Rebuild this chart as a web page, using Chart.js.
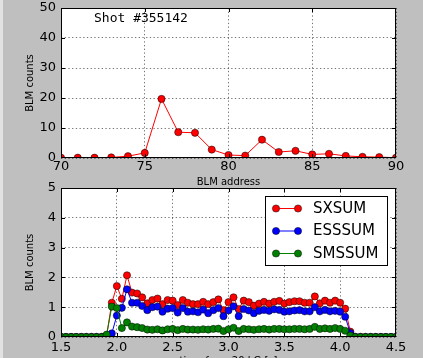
<!DOCTYPE html>
<html>
<head>
<meta charset="utf-8">
<script src="https://cdn.jsdelivr.net/npm/chart.js@4/dist/chart.umd.min.js"></script>
<style>
  html, body { margin: 0; padding: 0; background: #bfbfbf; }
  #wrap { position: relative; width: 423px; height: 358px; overflow: hidden; }
  #wrap canvas { position: absolute; left: 0; top: -20px; }
  #edge { position: absolute; left: 0; top: 0; width: 3px; height: 358px; background: #e2e2e2; }
</style>
</head>
<body>
<div id="wrap">
  <canvas id="blmChart" width="423" height="420"></canvas>
  <canvas id="sumChart" width="423" height="420"></canvas>
  <div id="edge"></div>
</div>
<script>
// ---- Upper panel: counts per BLM address ----
const addresses = [70, 71, 72, 73, 74, 75, 76, 77, 78, 79, 80, 81, 82, 83, 84, 85, 86, 87, 88, 89, 90];
const blmCounts = [0.1, 0.1, 0.1, 0.2, 0.6, 1.7, 19.7, 8.6, 8.4, 2.8, 1.0, 0.8, 6.1, 2.0, 2.4, 1.2, 1.4, 0.7, 0.4, 0.3, 0.1];
const addressTicks = [70, 75, 80, 85, 90];
const addressTickLabels = ['70', '75', '80', '85', '90'];
const countTicksTop = [0, 10, 20, 30, 40, 50];
const countTickLabelsTop = ['0', '10', '20', '30', '40', '50'];
const shotLabel = 'Shot #355142';

// ---- Lower panel: summed signals versus time ----
const times = [
  1.500, 1.545, 1.591, 1.636, 1.682, 1.727, 1.773, 1.818, 1.864, 1.909,
  1.955, 2.000, 2.045, 2.091, 2.136, 2.182, 2.227, 2.273, 2.318, 2.364,
  2.409, 2.455, 2.500, 2.545, 2.591, 2.636, 2.682, 2.727, 2.773, 2.818,
  2.864, 2.909, 2.955, 3.000, 3.045, 3.091, 3.136, 3.182, 3.227, 3.273,
  3.318, 3.364, 3.409, 3.455, 3.500, 3.545, 3.591, 3.636, 3.682, 3.727,
  3.773, 3.818, 3.864, 3.909, 3.955, 4.000, 4.045, 4.091, 4.136, 4.182,
  4.227, 4.273, 4.318, 4.364, 4.409, 4.455, 4.500
];
const sxsum = [
  0, 0, 0, 0, 0, 0, 0, 0, 0, 0.05,
  1.15, 1.71, 1.28, 2.07, 1.49, 1.46, 1.33, 1.13, 1.24, 1.29,
  1.10, 1.24, 1.22, 1.07, 1.24, 1.15, 1.10, 1.10, 1.18, 1.10,
  1.17, 1.26, 0.90, 1.17, 1.33, 0.94, 1.22, 1.17, 1.05, 1.12,
  1.18, 1.12, 1.18, 1.21, 1.12, 1.17, 1.20, 1.20, 1.15, 1.15,
  1.36, 1.13, 1.22, 1.15, 1.22, 1.15, 0.95, 0.18, 0, 0,
  0, 0, 0, 0, 0, 0, 0
];
const esssum = [
  0, 0, 0, 0, 0, 0, 0, 0, 0, 0.03,
  0.12, 0.72, 0.98, 1.60, 1.15, 1.15, 1.04, 0.90, 1.00, 1.02,
  0.85, 0.95, 0.97, 0.82, 0.97, 0.85, 0.86, 0.83, 0.92, 0.80,
  0.90, 0.97, 0.70, 0.89, 1.03, 0.70, 0.94, 0.89, 0.80, 0.88,
  0.91, 0.88, 0.93, 0.91, 0.85, 0.86, 0.89, 0.90, 0.86, 0.86,
  1.00, 0.86, 0.91, 0.86, 0.88, 0.85, 0.68, 0.13, 0, 0,
  0, 0, 0, 0, 0, 0, 0
];
const smssum = [
  0, 0, 0, 0, 0, 0, 0, 0, 0, 0.08,
  1.02, 0.97, 0.30, 0.49, 0.35, 0.33, 0.30, 0.25, 0.24, 0.26,
  0.22, 0.26, 0.27, 0.23, 0.27, 0.25, 0.25, 0.24, 0.26, 0.25,
  0.27, 0.28, 0.20, 0.26, 0.31, 0.20, 0.27, 0.26, 0.24, 0.26,
  0.27, 0.25, 0.27, 0.27, 0.26, 0.26, 0.27, 0.27, 0.26, 0.27,
  0.34, 0.27, 0.29, 0.27, 0.30, 0.27, 0.21, 0.05, 0, 0,
  0, 0, 0, 0, 0, 0, 0
];
const seriesNames = ['SXSUM', 'ESSSUM', 'SMSSUM'];
const seriesColors = ['#ff0000', '#0000ff', '#008000'];
const timeTicks = [1.5, 2.0, 2.5, 3.0, 3.5, 4.0, 4.5];
const timeTickLabels = ['1.5', '2.0', '2.5', '3.0', '3.5', '4.0', '4.5'];
const countTicksBottom = [0, 1, 2, 3, 4, 5];
const countTickLabelsBottom = ['0', '1', '2', '3', '4', '5'];

// ---- shared styling ----
const tickFont = { family: '"DejaVu Sans", sans-serif', size: 13 };
const titleFont = { family: '"DejaVu Sans", sans-serif', size: 10 };
const gridOpts = { color: 'rgba(0,0,0,0.55)', lineWidth: 1, drawTicks: false };
const borderOpts = { display: false, dash: [1.3, 2.4] };
const MARKER_R = 3.6;
const SHIFT = 20; // canvases sit 20px above the page top

function lineDataset(label, values, xs, color, order) {
  return {
    label: label,
    data: values.map((v, i) => ({ x: xs[i], y: v })),
    borderColor: color,
    backgroundColor: color,
    borderWidth: 1,
    pointRadius: MARKER_R,
    pointHoverRadius: MARKER_R,
    pointBackgroundColor: color,
    pointBorderColor: '#000',
    pointBorderWidth: 0.5,
    tension: 0,
    clip: 0,
    order: order
  };
}

function axes(o) {
  return {
    x: {
      type: 'linear', min: o.xMin, max: o.xMax,
      afterBuildTicks: s => { s.ticks = o.xTicks.map(v => ({ value: v })); },
      afterFit: s => { s.height = 30; },
      ticks: { font: tickFont, color: '#000', padding: o.xTickPad, maxRotation: 0, autoSkip: false,
               callback: (v, i) => o.xLabels[i] },
      grid: gridOpts, border: borderOpts,
      title: { display: true, text: o.xTitle, font: titleFont, color: '#000', padding: { top: 0, bottom: 0 } }
    },
    y: {
      type: 'linear', min: o.yMin, max: o.yMax,
      afterBuildTicks: s => { s.ticks = o.yTicks.map(v => ({ value: v })); },
      afterFit: s => { s.width = 61; },
      ticks: { font: tickFont, color: '#000', padding: 5, autoSkip: false,
               callback: (v, i) => o.yLabels[i] },
      grid: gridOpts, border: borderOpts,
      title: { display: true, text: 'BLM counts', font: titleFont, color: '#000', padding: { top: 24.5, bottom: 0 } }
    }
  };
}

// white plot background, black frame and inward tick marks on all four sides
const framePlugin = {
  id: 'frame',
  beforeDraw(chart) {
    const a = chart.chartArea, ctx = chart.ctx;
    ctx.save();
    ctx.fillStyle = '#ffffff';
    ctx.fillRect(a.left, a.top, a.right - a.left, a.bottom - a.top);
    ctx.restore();
  },
  afterDatasetsDraw(chart) {
    const a = chart.chartArea, ctx = chart.ctx;
    const xs = chart.scales.x, ys = chart.scales.y;
    const L = 4;
    ctx.save();
    ctx.strokeStyle = '#000';
    ctx.lineWidth = 1;
    ctx.beginPath();
    xs.ticks.forEach(t => {
      const px = Math.round(xs.getPixelForValue(t.value)) + 0.5;
      if (px < a.left + 2 || px > a.right - 2) return;
      ctx.moveTo(px, a.bottom); ctx.lineTo(px, a.bottom - L);
      ctx.moveTo(px, a.top); ctx.lineTo(px, a.top + L);
    });
    ys.ticks.forEach(t => {
      const py = Math.round(ys.getPixelForValue(t.value)) + 0.5;
      if (py < a.top + 2 || py > a.bottom - 2) return;
      ctx.moveTo(a.left, py); ctx.lineTo(a.left + L, py);
      ctx.moveTo(a.right, py); ctx.lineTo(a.right - L, py);
    });
    ctx.stroke();
    ctx.strokeRect(a.left + 0.5, a.top + 0.5, a.right - a.left - 1, a.bottom - a.top - 1);
    ctx.restore();
  }
};

// shot number written inside the upper plot
const shotPlugin = {
  id: 'shotText',
  afterDraw(chart) {
    const a = chart.chartArea, ctx = chart.ctx;
    ctx.save();
    ctx.fillStyle = '#000';
    ctx.font = '13px "DejaVu Sans Mono", monospace';
    ctx.textBaseline = 'middle';
    ctx.textAlign = 'left';
    ctx.fillText(shotLabel, a.left + 33, a.top + 10.5);
    ctx.restore();
  }
};

// legend box in the upper right corner of the lower plot
const legendPlugin = {
  id: 'boxLegend',
  afterDraw(chart) {
    const a = chart.chartArea, ctx = chart.ctx;
    const w = 123, h = 70;
    const x0 = Math.round(a.right - 8 - w), y0 = Math.round(a.top + 8);
    ctx.save();
    ctx.fillStyle = '#fff';
    ctx.fillRect(x0, y0, w, h);
    ctx.strokeStyle = '#000';
    ctx.lineWidth = 1;
    ctx.strokeRect(x0 + 0.5, y0 + 0.5, w - 1, h - 1);
    seriesNames.forEach((name, i) => {
      const cy = y0 + 12.5 + i * 22.5;
      const m1 = x0 + 11, m2 = x0 + 33;
      ctx.strokeStyle = seriesColors[i];
      ctx.lineWidth = 1;
      ctx.beginPath(); ctx.moveTo(m1, cy); ctx.lineTo(m2, cy); ctx.stroke();
      [m1, m2].forEach(mx => {
        ctx.beginPath();
        ctx.arc(mx, cy, MARKER_R, 0, Math.PI * 2);
        ctx.fillStyle = seriesColors[i];
        ctx.fill();
        ctx.strokeStyle = '#000';
        ctx.lineWidth = 0.5;
        ctx.stroke();
      });
      ctx.fillStyle = '#000';
      ctx.font = '15px "DejaVu Sans", sans-serif';
      ctx.textBaseline = 'middle';
      ctx.textAlign = 'left';
      ctx.fillText(name, x0 + 48, cy + 0.5);
    });
    ctx.restore();
  }
};

const common = {
  responsive: false,
  animation: false,
  events: [],
  plugins: { legend: { display: false }, tooltip: { enabled: false } }
};

const H = 420;

new Chart(document.getElementById('blmChart'), {
  type: 'line',
  data: { datasets: [lineDataset('BLM', blmCounts, addresses, '#ff0000', 0)] },
  options: Object.assign({}, common, {
    layout: { padding: { left: 0, top: 8 + SHIFT, right: 27, bottom: H - (158 + SHIFT) - 30 } },
    scales: axes({
      xMin: 70, xMax: 90, xTicks: addressTicks, xLabels: addressTickLabels, xTickPad: 1,
      xTitle: 'BLM address',
      yMin: 0, yMax: 50, yTicks: countTicksTop, yLabels: countTickLabelsTop
    })
  }),
  plugins: [framePlugin, shotPlugin]
});

new Chart(document.getElementById('sumChart'), {
  type: 'line',
  data: {
    datasets: [
      lineDataset(seriesNames[0], sxsum, times, seriesColors[0], 3),
      lineDataset(seriesNames[1], esssum, times, seriesColors[1], 2),
      lineDataset(seriesNames[2], smssum, times, seriesColors[2], 1)
    ]
  },
  options: Object.assign({}, common, {
    layout: { padding: { left: 0, top: 188 + SHIFT, right: 27, bottom: H - (337 + SHIFT) - 30 } },
    scales: axes({
      xMin: 1.5, xMax: 4.5, xTicks: timeTicks, xLabels: timeTickLabels, xTickPad: 2.5,
      xTitle: 'time from 20 kG [s]',
      yMin: 0, yMax: 5, yTicks: countTicksBottom, yLabels: countTickLabelsBottom
    })
  }),
  plugins: [framePlugin, legendPlugin]
});
</script>
</body>
</html>
